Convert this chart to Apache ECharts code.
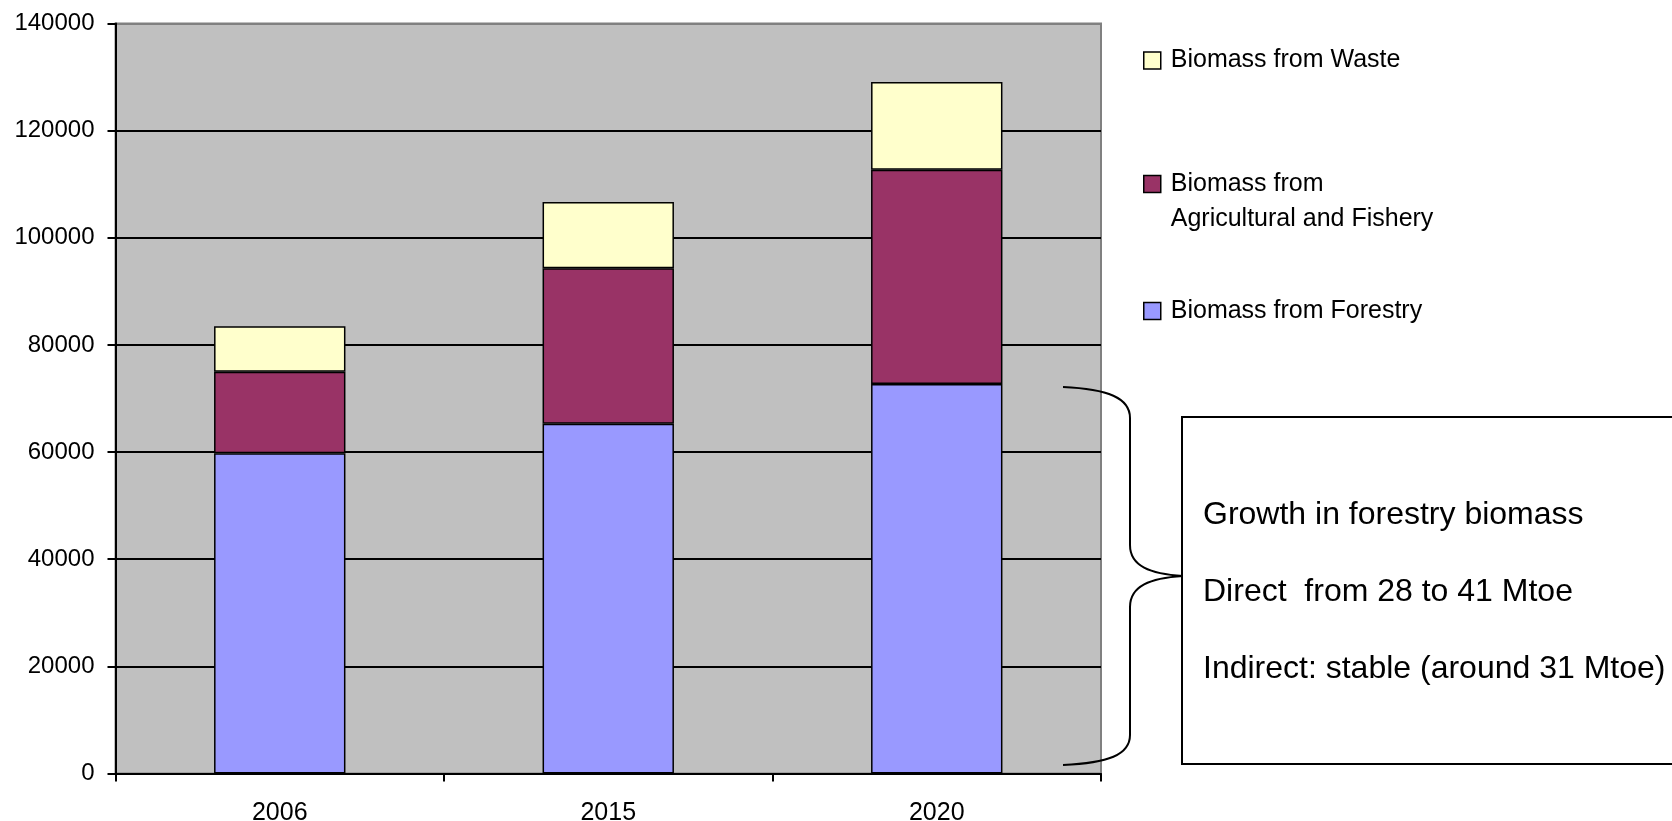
<!DOCTYPE html>
<html>
<head>
<meta charset="utf-8">
<script src="https://cdn.jsdelivr.net/npm/echarts@6/dist/echarts.min.js"></script>
<style>
  html, body { margin: 0; padding: 0; background: #fff; }
  #chart { width: 1672px; height: 821px; }
</style>
</head>
<body>
<div id="chart"></div>
<script>
// Biomass supply by source (stacked), 2006 / 2015 / 2020
const years = ['2006', '2015', '2020'];
const seriesNames = [
  'Biomass from Forestry',
  'Biomass from Agricultural and Fishery',
  'Biomass from Waste'
];
const forestry = [59800, 65300, 72700];
const agricultureFishery = [15200, 29000, 40000];
const waste = [8500, 12400, 16400];
const yTicks = [0, 20000, 40000, 60000, 80000, 100000, 120000, 140000];
const noteLines = [
  'Growth in forestry biomass',
  'Direct  from 28 to 41 Mtoe',
  'Indirect: stable (around 31 Mtoe)'
];

const FONT = '"Liberation Sans", Arial, Helvetica, sans-serif';
const colors = ['#9999FF', '#993366', '#FFFFCC'];

// legend swatches: square followed by a transparent gap before the text
const SQUARE = 'path://M0,0L17,0L17,17L0,17Z M22,17';
// swatch pinned to the first line of a two-line legend entry
const SQUARE_TOP = 'path://M0,0L17,0L17,17L0,17Z M22,52';

const chart = echarts.init(document.getElementById('chart'), null, { renderer: 'canvas' });

const legendBase = {
  orient: 'vertical',
  left: 1143,
  padding: 0,
  itemWidth: 22,
  itemHeight: 17,
  selectedMode: false,
  icon: SQUARE,
  itemStyle: { borderColor: '#000', borderWidth: 1.5 },
  textStyle: { fontSize: 25, fontFamily: FONT, color: '#000', lineHeight: 28 }
};

const stackSeries = [forestry, agricultureFishery, waste].map((values, i) => ({
  name: seriesNames[i],
  type: 'bar',
  stack: 'biomass',
  barWidth: '40%',
  data: values,
  itemStyle: { color: colors[i], borderColor: '#000', borderWidth: 1.5 },
  emphasis: { disabled: true }
}));

// curly brace: four curved pieces joined by two straight runs
const braceStyle = { fill: 'none', stroke: '#000', lineWidth: 2 };
const brace = [
  { type: 'bezierCurve', shape: { x1: 1063, y1: 387, cpx1: 1108, cpy1: 389, cpx2: 1130, cpy2: 398, x2: 1130, y2: 418 } },
  { type: 'line', shape: { x1: 1130, y1: 418, x2: 1130, y2: 545 } },
  { type: 'bezierCurve', shape: { x1: 1130, y1: 545, cpx1: 1130, cpy1: 566, cpx2: 1150, cpy2: 574, x2: 1183, y2: 576 } },
  { type: 'bezierCurve', shape: { x1: 1183, y1: 576, cpx1: 1150, cpy1: 578, cpx2: 1130, cpy2: 586, x2: 1130, y2: 607 } },
  { type: 'line', shape: { x1: 1130, y1: 607, x2: 1130, y2: 735 } },
  { type: 'bezierCurve', shape: { x1: 1130, y1: 735, cpx1: 1130, cpy1: 755, cpx2: 1108, cpy2: 763, x2: 1063, y2: 765 } }
].map(el => Object.assign(el, { z: 100, style: braceStyle }));

const noteBox = {
  type: 'rect',
  z: 100,
  shape: { x: 1182, y: 417, width: 520, height: 347 },
  style: { fill: '#fff', stroke: '#000', lineWidth: 2 }
};

const noteText = noteLines.map((line, i) => ({
  type: 'text',
  z: 101,
  x: 1203,
  y: 515 + i * 77,
  style: {
    text: line,
    fill: '#000',
    font: '32px ' + FONT,
    verticalAlign: 'middle',
    align: 'left'
  }
}));

const option = {
  animation: false,
  backgroundColor: '#fff',
  textStyle: { fontFamily: FONT },
  grid: {
    left: 115.5,
    right: 571,
    top: 23.5,
    bottom: 47.5,
    containLabel: false,
    outerBoundsMode: 'none',
    show: true,
    backgroundColor: '#C0C0C0',
    borderColor: '#808080',
    borderWidth: 2
  },
  legend: [
    Object.assign({}, legendBase, { data: [seriesNames[2]], top: 46.5 }),
    Object.assign({}, legendBase, {
      data: [seriesNames[1]],
      top: 166.5,
      itemHeight: 52,
      icon: SQUARE_TOP,
      formatter: 'Biomass from\nAgricultural and Fishery',
      textStyle: { fontSize: 25, fontFamily: FONT, color: '#000', lineHeight: 35 }
    }),
    Object.assign({}, legendBase, { data: [seriesNames[0]], top: 297 })
  ],
  xAxis: {
    type: 'category',
    data: years,
    boundaryGap: true,
    axisLine: { lineStyle: { color: '#000', width: 2 } },
    axisTick: { show: true, length: 8, lineStyle: { color: '#000', width: 2 } },
    axisLabel: { color: '#000', fontSize: 25, fontFamily: FONT, margin: 27 },
    splitLine: { show: false }
  },
  yAxis: {
    type: 'value',
    min: yTicks[0],
    max: yTicks[yTicks.length - 1],
    interval: yTicks[1] - yTicks[0],
    axisLine: { show: true, lineStyle: { color: '#000', width: 2 } },
    axisTick: { show: true, length: 8, lineStyle: { color: '#000', width: 2 } },
    axisLabel: {
      color: '#000',
      fontSize: 24,
      fontFamily: FONT,
      margin: 21,
      formatter: value => String(value)
    },
    splitLine: {
      show: true,
      lineStyle: {
        color: yTicks.map((t, i) => (i === yTicks.length - 1 ? '#808080' : '#000')),
        width: 2
      }
    }
  },
  series: stackSeries,
  graphic: brace.concat([noteBox], noteText)
};

chart.setOption(option);
</script>
</body>
</html>
